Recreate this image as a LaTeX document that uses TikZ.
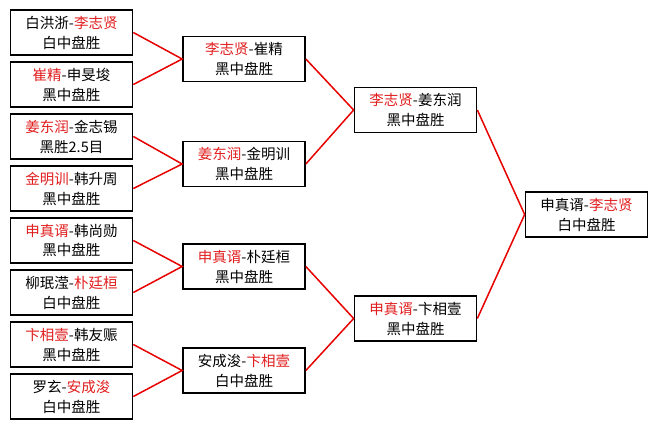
\documentclass[tikz,border=0pt]{standalone}
\usepackage{fontspec}
\usepackage{xcolor}
\usepackage{tikz}
\newfontfamily\cjk{Noto Sans CJK SC}
\definecolor{wincol}{RGB}{225,30,30}
\definecolor{linkcol}{RGB}{230,0,0}
\newcommand{\winner}[1]{\textcolor{wincol}{#1}}

\begin{document}
\begin{tikzpicture}[x=1pt, y=-1pt,
    every node/.style={font=\cjk\fontsize{14.5}{20}\selectfont},
    game/.style={draw=black, line width=1.7pt, minimum width=122pt,
      minimum height=45pt, inner sep=0pt, align=center},
    link/.style={linkcol, line width=1.5pt}]

    \useasboundingbox (0,0) rectangle (657,429);

    %% Round 1
    \node[game] (r1a) at (71.5, 32.5)  {白洪浙-\winner{李志贤}\\白中盘胜};
    \node[game] (r1b) at (71.5, 84.5)  {\winner{崔精}-申旻埈\\黑中盘胜};
    \node[game] (r1c) at (71.5,136.5)  {\winner{姜东润}-金志锡\\黑胜2.5目};
    \node[game] (r1d) at (71.5,188.5)  {\winner{金明训}-韩升周\\黑中盘胜};
    \node[game] (r1e) at (71.5,240.5)  {\winner{申真谞}-韩尚勋\\黑中盘胜};
    \node[game] (r1f) at (71.5,292.5)  {柳珉滢-\winner{朴廷桓}\\白中盘胜};
    \node[game] (r1g) at (71.5,344.5)  {\winner{卞相壹}-韩友赈\\黑中盘胜};
    \node[game] (r1h) at (71.5,396.5)  {罗玄-\winner{安成浚}\\白中盘胜};

    %% Round 2
    \node[game] (r2a) at (244, 59)     {\winner{李志贤}-崔精\\黑中盘胜};
    \node[game] (r2b) at (244,164)     {\winner{姜东润}-金明训\\黑中盘胜};
    \node[game] (r2c) at (244,266.5)   {\winner{申真谞}-朴廷桓\\黑中盘胜};
    \node[game] (r2d) at (244,370.5)   {安成浚-\winner{卞相壹}\\白中盘胜};

    %% Semi-finals
    \node[game] (r3a) at (415.5,110)   {\winner{李志贤}-姜东润\\黑中盘胜};
    \node[game] (r3b) at (415.5,318.5) {\winner{申真谞}-卞相壹\\黑中盘胜};

    %% Final
    \node[game] (fin) at (586.5,214.5) {申真谞-\winner{李志贤}\\白中盘胜};

    %% Bracket lines
    \draw[link] (r1a.east) -- (r2a.west) -- (r1b.east);
    \draw[link] (r1c.east) -- (r2b.west) -- (r1d.east);
    \draw[link] (r1e.east) -- (r2c.west) -- (r1f.east);
    \draw[link] (r1g.east) -- (r2d.west) -- (r1h.east);
    \draw[link] (r2a.east) -- (r3a.west) -- (r2b.east);
    \draw[link] (r2c.east) -- (r3b.west) -- (r2d.east);
    \draw[link] (r3a.east) -- (fin.west) -- (r3b.east);

\end{tikzpicture}
\end{document}
